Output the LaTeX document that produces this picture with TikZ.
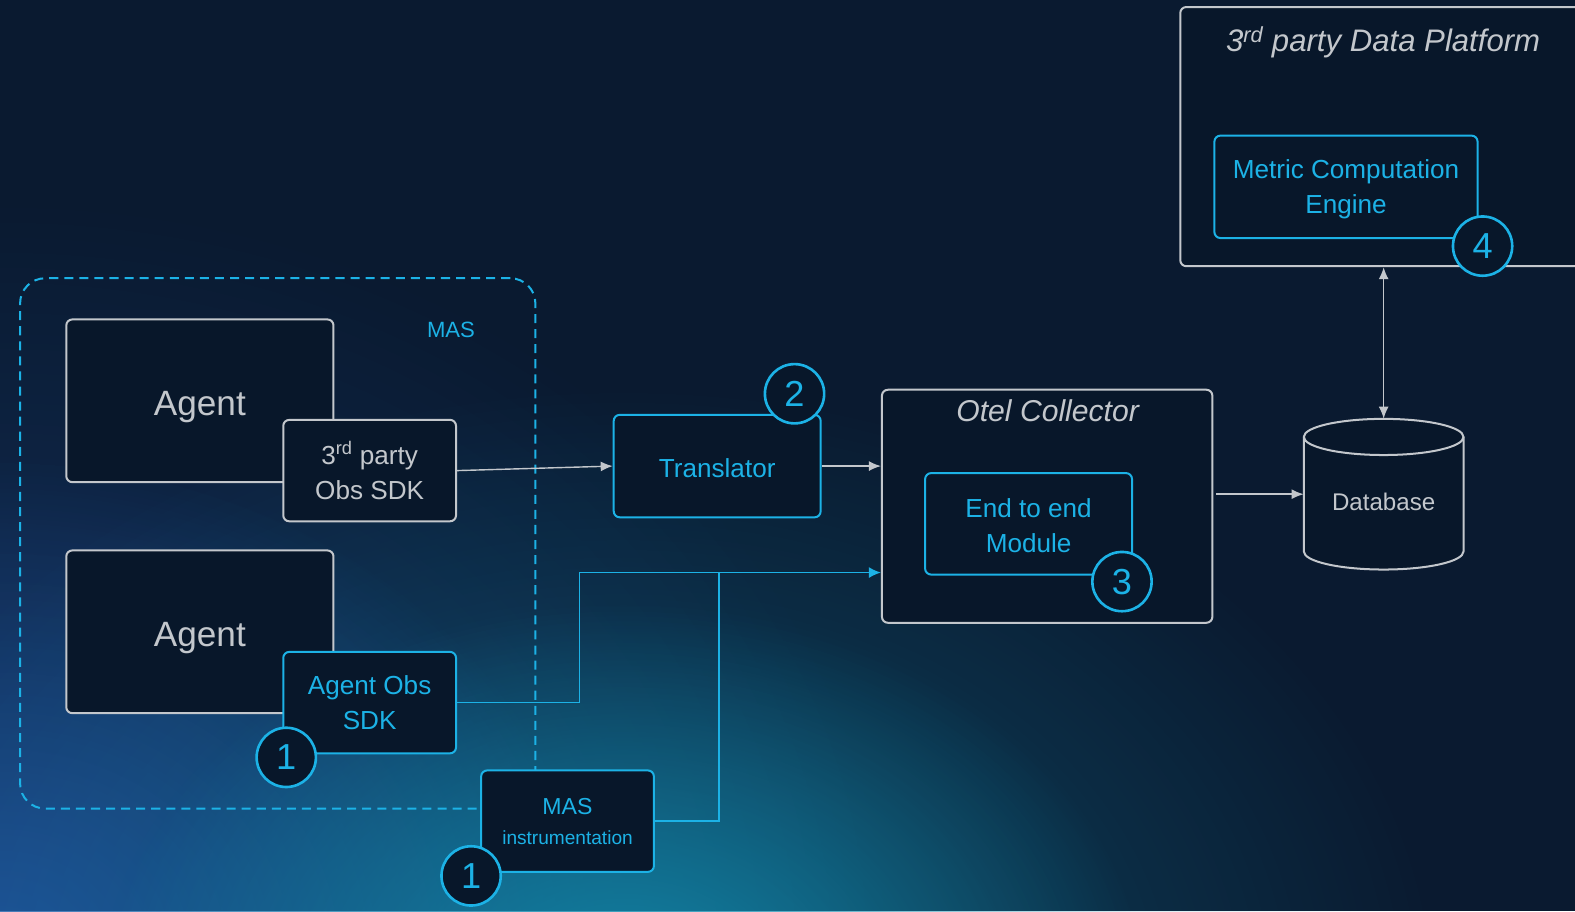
\documentclass[tikz,border=0pt]{standalone}
\usepackage{fontspec}
\setmainfont{Liberation Sans}
\usetikzlibrary{arrows.meta,fadings,calc}
\definecolor{bg}{HTML}{0A1A30}
\definecolor{boxfill}{HTML}{08172A}
\definecolor{cblue}{HTML}{1CB2E6}
\definecolor{gline}{HTML}{C3C7CC}
\definecolor{glowblue}{HTML}{2259A8}
\definecolor{glowteal}{HTML}{138CAE}
\tikzfading[name=glowfade, inner color=transparent!0, outer color=transparent!100]
\tikzset{
 box/.style={draw=gline, fill=boxfill, line width=2pt, rounded corners=6pt, inner sep=0pt, align=center, text=gline},
 bbox/.style={box, draw=cblue, text=cblue},
 badge/.style={circle, draw=cblue, fill=boxfill, line width=2.6pt, minimum size=59pt, inner sep=0pt, text=cblue, font=\fontsize{36}{36}\selectfont},
 garrow/.style={draw=gline, line width=1.4pt, -{Latex[length=12pt,width=10pt]}},
 gdarrow/.style={draw=gline, line width=1.4pt, {Latex[length=12pt,width=10pt]}-{Latex[length=12pt,width=10pt]}},
 barrow/.style={draw=cblue, line width=1.6pt, -{Latex[length=12pt,width=11pt]}},
 bline/.style={draw=cblue, line width=1.6pt},
 dashbox/.style={draw=cblue, line width=2pt, dash pattern=on 9pt off 6pt, rounded corners=25pt},
 ttwo/.style={font=\fontsize{26}{35}\selectfont},
 agentfont/.style={font=\fontsize{35}{35}\selectfont, text height=30pt, text depth=0pt},
 glow/.style={path fading=glowfade},
}
\begin{document}
\begin{tikzpicture}[x=1pt,y=-1pt]
\fill[bg] (0,0) rectangle (1568,907);
\useasboundingbox (0,0) rectangle (1568,907);
\begin{scope}
\clip (0,0) rectangle (1568,907);
\fill[glowblue, glow, opacity=0.4] (0,950) ellipse (900 and 760);
\fill[glowblue, glow, opacity=0.75] (0,950) ellipse (600 and 500);
\fill[glowteal, glow, opacity=0.45] (620,1000) ellipse (820 and 620);
\fill[glowteal, glow, opacity=0.85] (620,990) ellipse (520 and 390);

% MAS dashed region
\node[dashbox, minimum width=513pt, minimum height=528pt] (mas) at (276.5,541) {};
\node[text=cblue, font=\fontsize{22}{22}\selectfont] (maslbl) at (449,328) {MAS};

% agents
\node[box, agentfont, minimum width=266pt, minimum height=162pt] (ag1) at (199,399) {Agent};
\node[box, ttwo, minimum width=172pt, minimum height=101pt] (sdk3) at (368,468.5) {3\textsuperscript{rd} party\\Obs SDK};
\node[box, agentfont, minimum width=266pt, minimum height=162pt] (ag2) at (199,629) {Agent};
\node[bbox, ttwo, minimum width=172pt, minimum height=101pt] (aobs) at (368,699.5) {Agent Obs\\SDK};
\node[bbox, font=\fontsize{19}{30}\selectfont, minimum width=172pt, minimum height=101pt] (masi) at (565,817.5) {{\fontsize{23}{23}\selectfont MAS}\\instrumentation};

% translator
\node[bbox, font=\fontsize{26}{26}\selectfont, text height=22pt, text depth=0pt, minimum width=206pt, minimum height=102pt] (trans) at (714,464) {Translator};

% otel collector
\node[box, minimum width=329pt, minimum height=232pt] (otel) at (1042.5,504) {};
\node[text=gline, font=\fontsize{30}{30}\selectfont\itshape] (oteltitle) at (1043,409) {Otel Collector};
\node[bbox, ttwo, minimum width=206pt, minimum height=101pt] (e2e) at (1024,521.5) {\rule{0pt}{22pt}End to end\\Module};

% platform
\node[box, minimum width=430pt, minimum height=258pt] (plat) at (1390,136) {};
\node[text=gline, font=\fontsize{31}{31}\selectfont\itshape] (plattitle) at (1377,42) {3\textsuperscript{rd} party Data Platform};
\node[bbox, ttwo, minimum width=262pt, minimum height=102pt] (mce) at (1340,186) {\rule{0pt}{24pt}Metric Computation\\Engine};

% database
\filldraw[fill=boxfill, draw=gline, line width=2pt] (1298,435) -- (1298,549) arc (180:0:79.5 and 18) -- (1457,435) arc (0:-180:79.5 and 18) -- cycle;
\draw[gline, line width=2pt] (1298,435) arc (180:0:79.5 and 18);
\node[minimum width=159pt, minimum height=150pt, inner sep=0pt] (db) at (1377.5,492) {};
\node[text=gline, font=\fontsize{24}{24}\selectfont] (dblbl) at (1377.5,500) {Database};

% connectors
\draw[garrow] (sdk3.east) -- (trans.west);
\draw[garrow] (trans.east) -- (trans.east -| otel.west);
\coordinate (j1) at (577,570);
\coordinate (j2) at (716,570);
\draw[barrow] (aobs.east) -| (j1) -- (j1 -| otel.west);
\draw[bline] (masi.east) -| (j2);
\draw[garrow] ([xshift=3pt]otel.east |- db.west) -- (db.west);
\draw[gdarrow] (plat.south -| db.north) -- (db.north);

% badges
\node[badge] (b1a) at (285,754) {1};
\node[badge] (b1b) at (469,872) {1};
\node[badge] (b2) at (791,392) {2};
\node[badge] (b3) at (1117,579) {3};
\node[badge] (b4) at (1476,245) {4};
\end{scope}
\end{tikzpicture}
\end{document}
